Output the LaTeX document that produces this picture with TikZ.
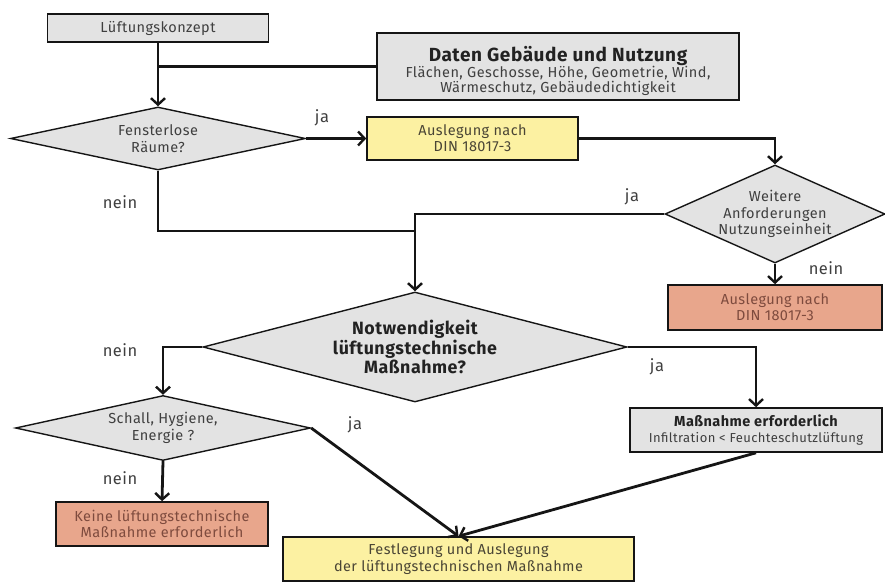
\documentclass[tikz,border=0pt]{standalone}
\usepackage{fontspec}
\setmainfont{Fira Sans}[LetterSpace=3]
\usetikzlibrary{arrows.meta,shapes.geometric}
\definecolor{boxgrey}{HTML}{E3E3E3}
\definecolor{boxyellow}{HTML}{FCF1A2}
\definecolor{boxorange}{HTML}{E8A68C}
\definecolor{txtgrey}{HTML}{3F3F3F}
\definecolor{txtdark}{HTML}{222222}
\definecolor{txtorange}{HTML}{7E4B3E}
\definecolor{txtyellow}{HTML}{4A4535}
\definecolor{linec}{HTML}{151515}
\begin{document}
\begin{tikzpicture}[x=1pt,y=-1pt,
  base/.style={draw=linec,line width=1.6pt,align=center,inner sep=0pt,font=\fontsize{14.5}{16}\selectfont},
  greybox/.style={base,fill=boxgrey,text=txtgrey},
  yellowbox/.style={base,fill=boxyellow,text=txtyellow},
  orangebox/.style={base,fill=boxorange,text=txtorange},
  dia/.style={shape=diamond,draw=linec,line width=1.4pt,fill=boxgrey,inner sep=0pt},
  dtext/.style={text=txtgrey,align=center,font=\fontsize{14.5}{16.5}\selectfont},
  conn/.style={draw=linec,line width=2.8pt},
  arr/.style={conn,-{Straight Barb[length=6.5pt,width=14pt,line width=2.4pt]}},
  lbl/.style={text=txtgrey,font=\fontsize{16.5}{18}\selectfont}]
\useasboundingbox (0,0) rectangle (885,581);

% boxes
\node[greybox,minimum width=221pt,minimum height=28pt] (l1) at (158,28) {Lüftungskonzept};
\node[greybox,minimum width=362pt,minimum height=67pt] (daten) at (558,66.5) {};
\node[text=txtgrey,align=center,inner sep=0pt] (datent) at (558,71)
  {{\color{txtdark}\fontsize{19}{21}\bfseries Daten Gebäude und Nutzung}\\[0pt]
   {\fontsize{14.5}{15.5}\selectfont Flächen, Geschosse, Höhe, Geometrie, Wind,}\\
   {\fontsize{14.5}{15.5}\selectfont Wärmeschutz, Gebäudedichtigkeit}};
\node[yellowbox,minimum width=211pt,minimum height=43pt] (y1) at (472.5,138.5) {Auslegung nach\\DIN 18017-3};
\node[orangebox,minimum width=214pt,minimum height=45pt] (o1) at (775,307.5) {Auslegung nach\\DIN 18017-3};
\node[greybox,minimum width=252pt,minimum height=44pt] (m) at (756,430)
  {{\color{txtdark}\fontsize{14.5}{16}\bfseries Maßnahme erforderlich}\\{\fontsize{13}{15}\selectfont Infiltration < Feuchteschutzlüftung}};
\node[orangebox,minimum width=212pt,minimum height=44pt] (o2) at (162,524) {Keine lüftungstechnische\\Maßnahme erforderlich};
\node[yellowbox,minimum width=351pt,minimum height=44pt,font=\fontsize{14.5}{17}\selectfont] (f) at (458.5,559) {Festlegung und Auslegung\\der lüftungstechnischen Maßnahme};

% diamonds
\node[dia,minimum width=295pt,minimum height=63pt] (d1) at (158,138.5) {};
\node[dtext] (d1t) at (d1) {Fensterlose\\Räume?};
\node[dia,minimum width=220pt,minimum height=98pt] (d2) at (775,214) {};
\node[dtext] (d2t) at (d2) {Weitere\\Anforderungen\\Nutzungseinheit};
\node[dia,minimum width=424pt,minimum height=110pt] (d3) at (415,347) {};
\node[dtext,text=txtdark,font=\fontsize{17.8}{19.5}\bfseries] (d3t) at (d3) {Notwendigkeit\\lüftungstechnische\\Maßnahme?};
\node[dia,minimum width=295pt,minimum height=65pt] (d4) at (163,428) {};
\node[dtext] (d4t) at (d4) {Schall, Hygiene,\\Energie ?};

% connectors
\coordinate (j) at (415,231);
\draw[arr] (l1.south) -- (d1.north);
\draw[conn] (daten.west) -- (l1.south |- daten.west);
\draw[arr] (d1.east) -- (y1.west);
\draw[arr] (y1.east) -| (d2.north);
\draw[conn] (d1.south) |- (j);
\draw[arr] (d2.west) -| (d3.north);
\draw[arr] (d2.south) -- (o1.north);
\draw[arr] (d3.west) -| (d4.north);
\draw[arr] (d3.east) -| (m.north);
\draw[arr] (d4.south) -- (o2.north);
\draw[arr] (d4.east) -- (f.north);
\draw[arr] (m.south) -- (f.north);

% labels
\node[lbl] (la1) at (322,118) {ja};
\node[lbl] (la2) at (120,202) {nein};
\node[lbl] (la3) at (632,197) {ja};
\node[lbl] (la4) at (826,268) {nein};
\node[lbl] (la5) at (120,350) {nein};
\node[lbl] (la6) at (657,367) {ja};
\node[lbl] (la7) at (120,478) {nein};
\node[lbl] (la8) at (355,425) {ja};
\end{tikzpicture}
\end{document}
